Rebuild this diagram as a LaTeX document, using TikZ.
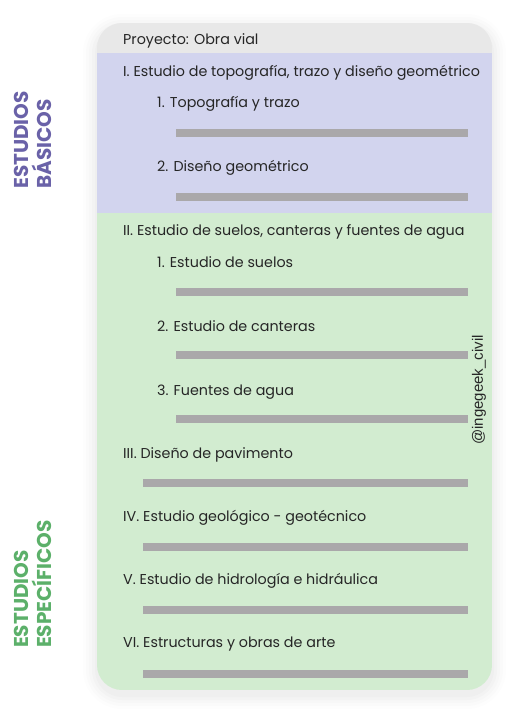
\documentclass[tikz,border=0pt]{standalone}
\usepackage{fontspec}
\setmainfont{Poppins}
\newfontfamily\wmfont{Liberation Sans}
\definecolor{hdrgray}{HTML}{E8E8E8}
\definecolor{blu}{HTML}{D2D4EE}
\definecolor{grn}{HTML}{D2ECD0}
\definecolor{barc}{HTML}{AAA8AA}
\definecolor{purp}{HTML}{6A62A8}
\definecolor{grnlbl}{HTML}{5CB06A}
\begin{document}
\begin{tikzpicture}[x=1pt,y=-1pt,
  item/.style={anchor=base west, inner sep=0pt, font=\fontsize{14.3}{17}\selectfont, text=black!85},
  barline/.style={fill=barc, draw=none},
  side/.style={rotate=90, align=left, inner sep=0pt, font=\fontsize{20}{23}\selectfont\bfseries}]
\useasboundingbox (0,0) rectangle (511,724);
\fill[white] (0,0) rectangle (511,724);
% soft shadow
\foreach \d/\o in {14/0.008,11/0.01,8/0.012,5/0.014,2/0.016}{
  \fill[black, opacity=\o, rounded corners=25+\d] (97-\d,23-\d+5) rectangle (492+\d,690+\d+5);
}
\begin{scope}
\clip[rounded corners=25] (97,23) rectangle (492,690);
\fill[hdrgray] (97,23) rectangle (492,53);
\fill[blu] (97,53) rectangle (492,213);
\fill[grn] (97,213) rectangle (492,690);
\end{scope}
% texts
\node[item] (p) at (123,44) {Proyecto: Obra vial};
\node[item] (t1) at (123,76) {I. Estudio de topografía, trazo y diseño geométrico};
\node[item] (t11) at (157,107) {1. Topografía y trazo};
\node[item] (t12) at (157,171) {2. Diseño geométrico};
\node[item] (t2) at (123,235) {II. Estudio de suelos, canteras y fuentes de agua};
\node[item] (t21) at (157,267) {1. Estudio de suelos};
\node[item] (t22) at (157,331) {2. Estudio de canteras};
\node[item] (t23) at (157,395) {3. Fuentes de agua};
\node[item] (t3) at (123,458) {III. Diseño de pavimento};
\node[item] (t4) at (123,521) {IV. Estudio geológico - geotécnico};
\node[item] (t5) at (123,584) {V. Estudio de hidrología e hidráulica};
\node[item] (t6) at (123,647) {VI. Estructuras y obras de arte};
% bars
\foreach \y in {133,197,292,355,419}{\fill[barline] (176,\y-4) rectangle (468,\y+4);}
\foreach \y in {483,547,610,674}{\fill[barline] (143,\y-4) rectangle (468,\y+4);}
% side labels
\node[side, text=purp] (sb) at (33,140) {ESTUDIOS\\BÁSICOS};
\node[side, text=grnlbl] (se) at (33,584) {ESTUDIOS\\ESPECÍFICOS};
% watermark
\node[rotate=90, inner sep=0pt, font=\wmfont\fontsize{15}{17}\selectfont, text=black!85] (wm) at (479,390) {@ingegeek\_civil};
\end{tikzpicture}
\end{document}
